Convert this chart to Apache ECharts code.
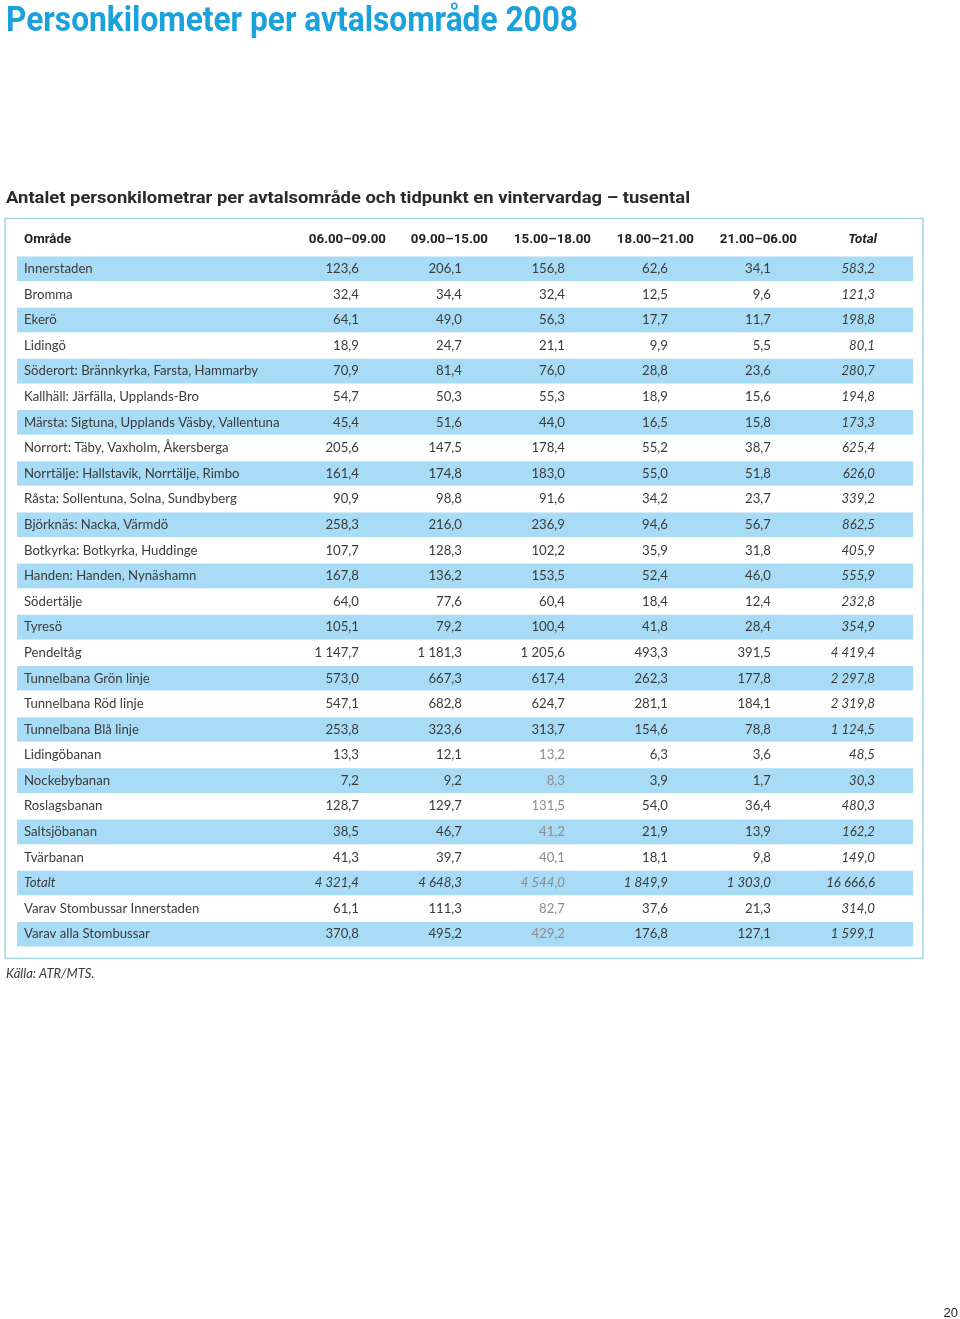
<!DOCTYPE html>
<html>
<head>
<meta charset="utf-8">
<script src="https://cdn.jsdelivr.net/npm/echarts@6/dist/echarts.min.js"></script>
<style>
html,body{margin:0;padding:0;background:#fff;}
#chart{width:960px;height:1319px;}
</style>
</head>
<body>
<div id="chart"></div>
<script>
// ---- data ----
const rows = [
  "Innerstaden","Bromma","Ekerö","Lidingö",
  "Söderort: Brännkyrka, Farsta, Hammarby",
  "Kallhäll: Järfälla, Upplands-Bro",
  "Märsta: Sigtuna, Upplands Väsby, Vallentuna",
  "Norrort: Täby, Vaxholm, Åkersberga",
  "Norrtälje: Hallstavik, Norrtälje, Rimbo",
  "Råsta: Sollentuna, Solna, Sundbyberg",
  "Björknäs: Nacka, Värmdö",
  "Botkyrka: Botkyrka, Huddinge",
  "Handen: Handen, Nynäshamn",
  "Södertälje","Tyresö","Pendeltåg",
  "Tunnelbana Grön linje","Tunnelbana Röd linje","Tunnelbana Blå linje",
  "Lidingöbanan","Nockebybanan","Roslagsbanan","Saltsjöbanan","Tvärbanan",
  "Totalt","Varav Stombussar Innerstaden","Varav alla Stombussar"
];
const headers = ["06.00–09.00","09.00–15.00","15.00–18.00","18.00–21.00","21.00–06.00","Total"];
const v0609 = [123.6,32.4,64.1,18.9,70.9,54.7,45.4,205.6,161.4,90.9,258.3,107.7,167.8,64.0,105.1,1147.7,573.0,547.1,253.8,13.3,7.2,128.7,38.5,41.3,4321.4,61.1,370.8];
const v0915 = [206.1,34.4,49.0,24.7,81.4,50.3,51.6,147.5,174.8,98.8,216.0,128.3,136.2,77.6,79.2,1181.3,667.3,682.8,323.6,12.1,9.2,129.7,46.7,39.7,4648.3,111.3,495.2];
const v1518 = [156.8,32.4,56.3,21.1,76.0,55.3,44.0,178.4,183.0,91.6,236.9,102.2,153.5,60.4,100.4,1205.6,617.4,624.7,313.7,13.2,8.3,131.5,41.2,40.1,4544.0,82.7,429.2];
const v1821 = [62.6,12.5,17.7,9.9,28.8,18.9,16.5,55.2,55.0,34.2,94.6,35.9,52.4,18.4,41.8,493.3,262.3,281.1,154.6,6.3,3.9,54.0,21.9,18.1,1849.9,37.6,176.8];
const v2106 = [34.1,9.6,11.7,5.5,23.6,15.6,15.8,38.7,51.8,23.7,56.7,31.8,46.0,12.4,28.4,391.5,177.8,184.1,78.8,3.6,1.7,36.4,13.9,9.8,1303.0,21.3,127.1];
const vTotal = [583.2,121.3,198.8,80.1,280.7,194.8,173.3,625.4,626.0,339.2,862.5,405.9,555.9,232.8,354.9,4419.4,2297.8,2319.8,1124.5,48.5,30.3,480.3,162.2,149.0,16666.6,314.0,1599.1];

// ---- layout / style ----
const columns = [v0609, v0915, v1518, v1821, v2106, vTotal];
const colRight = [342, 445, 548, 651, 754, 858]; // x-axis units
const labelX = 7;
const BODY = 'Lato, "Open Sans", sans-serif';
const HEAD = 'Roboto, "Noto Sans", sans-serif';
const TXT = '#3b3b3b';
const GRAY = '#8c8c8c';
const BAND = '#a8dcf6';
const grayFromRow = 19;
const totalRow = 24;

const TITLE = 'Personkilometer per avtalsområde 2008';
const SUBTITLE = 'Antalet personkilometrar per avtalsområde och tidpunkt en vintervardag – tusental';

function fmt(n){
  const s = n.toFixed(1).split('.');
  const intPart = s[0].replace(/\B(?=(\d{3})+(?!\d))/g, ' ');
  return intPart + ',' + s[1];
}

function fitScale(text, font, target){
  const cv = document.createElement('canvas').getContext('2d');
  cv.font = font;
  const w = cv.measureText(text).width;
  return w > 0 ? target / w : 1;
}

const chart = echarts.init(document.getElementById('chart'), null, {renderer:'canvas'});

function renderRow(params, api){
  const i = api.value(1);
  const c = api.coord([0, i]);
  const h = api.size([0, 1])[1];
  const left = api.coord([0, i])[0];
  const right = api.coord([896, i])[0];
  const children = [];
  if (i % 2 === 0) {
    children.push({type:'rect', shape:{x:left, y:c[1]-h/2+0.5, width:right-left, height:h-1}, style:{fill:BAND}});
  }
  const italicRow = i === totalRow;
  children.push({type:'text', style:{text:rows[i], x:api.coord([labelX,i])[0], y:c[1], align:'left', verticalAlign:'middle',
    fontFamily:BODY, fontSize:13.2, fontStyle: italicRow ? 'italic':'normal', fill:TXT}});
  for (let k = 0; k < columns.length; k++) {
    const p = api.coord([colRight[k], i]);
    const isTotal = k === columns.length - 1;
    const gray = k === 2 && i >= grayFromRow;
    children.push({type:'text', style:{text:fmt(columns[k][i]), x:p[0], y:p[1], align:'right', verticalAlign:'middle',
      fontFamily:BODY, fontSize:13.2, fontStyle:(isTotal||italicRow)?'italic':'normal', fill: gray ? GRAY : TXT}});
  }
  return {type:'group', children};
}

const headerRight = [386, 488, 591, 694, 797, 877];
const headerGraphics = headers.map((h, k) => ({
  type:'text', x: headerRight[k], y: 240,
  style:{text:h, align:'right', verticalAlign:'middle', fontFamily:HEAD, fontSize:13.3,
    fontWeight:'bold', fontStyle: k === 5 ? 'italic' : 'normal', fill:'#222'}
}));

const titleScale = fitScale(TITLE, 'bold 35px Roboto', 572);
const subScale = fitScale(SUBTITLE, 'bold 17px Roboto', 684);

chart.setOption({
  animation:false,
  grid:{left:17, top:256, width:896, height:691, containLabel:false},
  xAxis:{type:'value', min:0, max:896, show:false},
  yAxis:{type:'category', data:rows, inverse:true, show:false},
  series:[{
    type:'custom',
    renderItem:renderRow,
    data: rows.map((r,i)=>[0,i]),
    encode:{x:0, y:1},
    clip:false
  }],
  graphic:[
    {type:'text', x:6, y:22, scaleX:titleScale, style:{text:TITLE, verticalAlign:'middle',
      fontFamily:'Roboto, sans-serif', fontWeight:'bold', fontSize:35, fill:'#1ba2dc'}},
    {type:'text', x:6, y:199, scaleX:subScale, style:{text:SUBTITLE, verticalAlign:'middle',
      fontFamily:'Roboto, sans-serif', fontWeight:'bold', fontSize:17, fill:'#2a2a2a'}},
    {type:'rect', z:-1, shape:{x:5, y:218.5, width:918, height:740}, style:{fill:null, stroke:'#a6d6e0', lineWidth:1.5}},
    {type:'text', x:24, y:240, style:{text:'Område', verticalAlign:'middle', fontFamily:HEAD, fontWeight:'bold', fontSize:13.3, fill:'#222'}},
    ...headerGraphics,
    {type:'text', x:6, y:974, style:{text:'Källa: ATR/MTS.', verticalAlign:'middle', fontFamily:BODY, fontStyle:'italic', fontSize:13, fill:TXT}},
    {type:'text', x:958, y:1313, style:{text:'20', align:'right', verticalAlign:'middle', fontFamily:'"Liberation Sans", Arial, sans-serif', fontSize:13, fill:'#222'}}
  ]
});
</script>
</body>
</html>
